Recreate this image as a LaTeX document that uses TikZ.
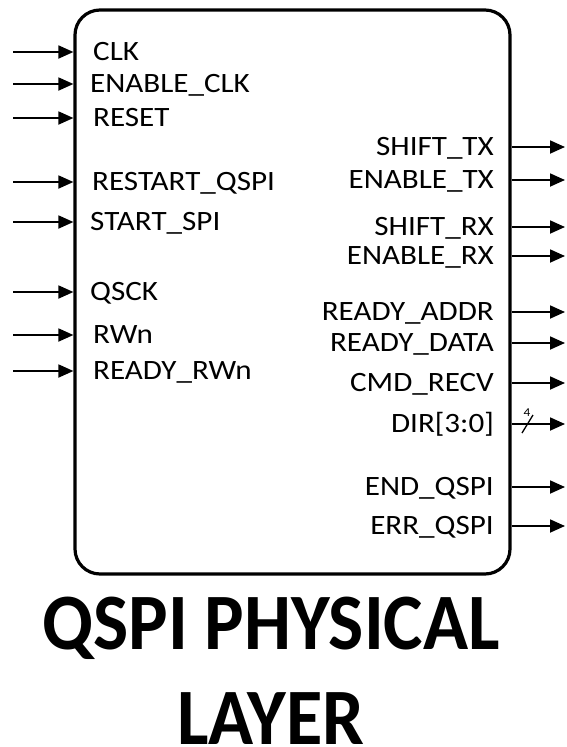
\documentclass[tikz,border=0pt]{standalone}
\usepackage{fontspec}
\setmainfont{Carlito}
\newfontfamily\pinfont[FakeStretch=1.11]{Carlito}
\newfontfamily\titlefont[FakeStretch=0.93]{Carlito}
\usetikzlibrary{arrows.meta}

\begin{document}
\begin{tikzpicture}[x=1pt,y=-1pt,
  sig/.style={line width=1.8pt,-{Triangle[length=15pt,width=13pt]}},
  pin/.style={inner sep=0pt,text height=17.7pt,text depth=0pt,font=\pinfont\fontsize{28}{30}\selectfont}]
\useasboundingbox (0,0) rectangle (566,747);
\node[draw,line width=3.2pt,rounded corners=25pt,minimum width=435pt,minimum height=564pt] (blk) at (292.5,292) {};
% inputs
\foreach \n/\y/\x/\t in {1/52/93/CLK,2/84/90/ENABLE\_CLK,3/118/93/RESET,4/182/92/RESTART\_QSPI,
  5/222/90/START\_SPI,6/292/90/QSCK,7/335/93/RWn,8/371/93/READY\_RWn} {
  \coordinate (i\n) at (13,\y);
  \draw[sig] (i\n) -- (i\n -| blk.west);
  \node[pin,anchor=west] (li\n) at (\x,\y) {\t};
}
% outputs
\foreach \n/\y/\t in {1/147/SHIFT\_TX,2/180/ENABLE\_TX,3/227/SHIFT\_RX,4/256/ENABLE\_RX,5/312/READY\_ADDR,
  6/343/READY\_DATA,7/383/CMD\_RECV,8/424/{DIR[3:0]},9/487/END\_QSPI,10/526/ERR\_QSPI} {
  \coordinate (o\n) at (565,\y);
  \draw[sig] (o\n -| blk.east) -- (o\n);
  \node[pin,anchor=east] (lo\n) at (494,\y) {\t};
}
% bus width
\draw[line width=1.3pt] (522,433) -- (533,415);
\node[inner sep=0pt,font=\pinfont\fontsize{12}{13}\selectfont] (bw) at (527,413) {4};
% title
\node[anchor=base,inner sep=0pt,font=\titlefont\fontsize{80}{97}\bfseries\selectfont] (ttl1) at (271,649) {QSPI PHYSICAL};
\node[anchor=base,inner sep=0pt,font=\titlefont\fontsize{80}{97}\bfseries\selectfont] (ttl2) at (271,744) {LAYER};
\end{tikzpicture}
\end{document}
